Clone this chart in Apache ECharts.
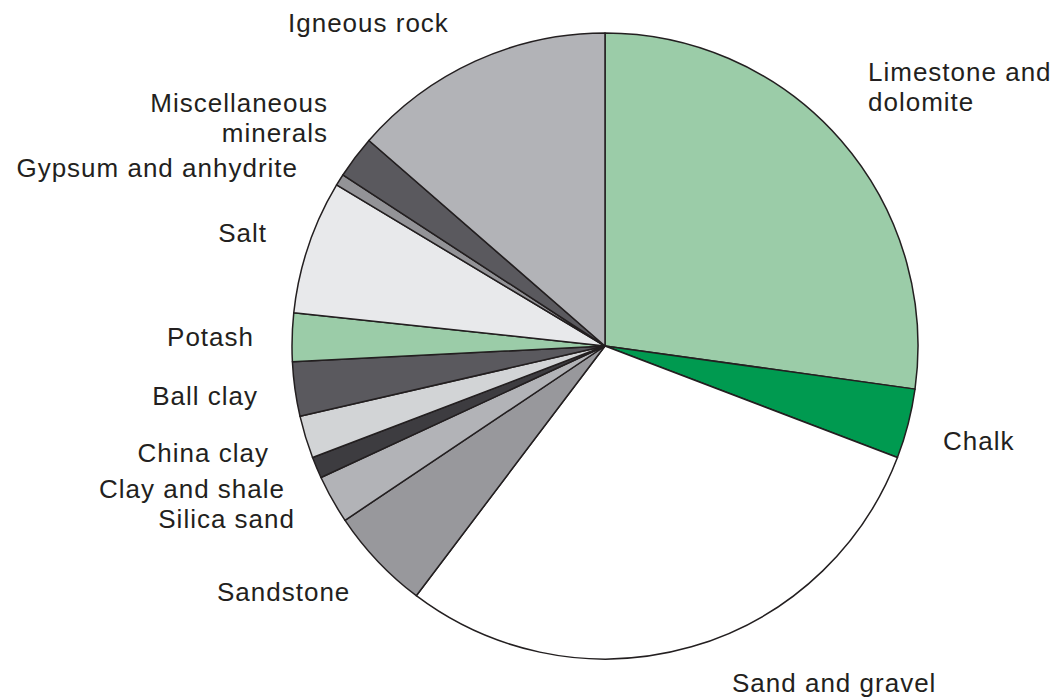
<!DOCTYPE html>
<html>
<head>
<meta charset="utf-8">
<style>
  html, body { margin: 0; padding: 0; background: #ffffff; }
  #chart { width: 1061px; height: 700px; }
  /* slightly open tracking for the slice labels */
  #chart text { letter-spacing: 1px; }
</style>
<script src="https://cdn.jsdelivr.net/npm/echarts@6/dist/echarts.min.js"></script>
</head>
<body>
<div id="chart"></div>
<script>
// Share of mineral production by type (%), clockwise from 12 o'clock
const categories = [
  'Limestone and\ndolomite', 'Chalk', 'Sand and gravel', 'Sandstone',
  'Silica sand', 'Clay and shale', 'China clay', 'Ball clay', 'Potash',
  'Salt', 'Gypsum and anhydrite', 'Miscellaneous\nminerals', 'Igneous rock'
];
const shares = [27.2, 3.6, 29.5, 5.3, 2.5, 1.1, 2.2, 2.8, 2.5, 6.9, 0.6, 2.2, 13.6];
const sliceColors = [
  '#9bcca8', '#009a50', '#ffffff', '#98989c', '#b2b3b7', '#3d3c40', '#d2d4d6',
  '#5a595e', '#9bcca8', '#e8e9eb', '#939397', '#5a595e', '#b2b3b7'
];

// Where each label sits on the page (anchor point, alignment)
const labelSpots = {
  'Limestone and\ndolomite': [868, 87, 'left'],
  'Chalk': [943, 441, 'left'],
  'Sand and gravel': [732, 683, 'left'],
  'Sandstone': [217, 592, 'left'],
  'Silica sand': [295, 519, 'right'],
  'Clay and shale': [285, 489, 'right'],
  'China clay': [269, 453, 'right'],
  'Ball clay': [258, 396, 'right'],
  'Potash': [254, 337, 'right'],
  'Salt': [267, 233, 'right'],
  'Gypsum and anhydrite': [298, 168, 'right'],
  'Miscellaneous\nminerals': [328, 118, 'right'],
  'Igneous rock': [288, 23, 'left']
};

const chart = echarts.init(document.getElementById('chart'), null, { renderer: 'svg' });

chart.setOption({
  animation: false,
  backgroundColor: '#ffffff',
  series: [{
    type: 'pie',
    center: [605, 346],
    radius: 313,
    startAngle: 90,
    clockwise: true,
    avoidLabelOverlap: false,
    silent: true,
    itemStyle: { borderColor: '#231f20', borderWidth: 1.5 },
    label: {
      show: true,
      position: 'outside',
      color: '#231f20',
      fontFamily: '"Liberation Sans", Arial, sans-serif',
      fontSize: 26,
      lineHeight: 30
    },
    labelLine: { show: false },
    labelLayout: function (params) {
      const name = categories[params.dataIndex];
      const spot = labelSpots[name];
      return { x: spot[0], y: spot[1], align: spot[2], verticalAlign: 'middle' };
    },
    data: categories.map((name, i) => ({
      name: name,
      value: shares[i],
      itemStyle: { color: sliceColors[i] }
    }))
  }]
});
</script>
</body>
</html>
